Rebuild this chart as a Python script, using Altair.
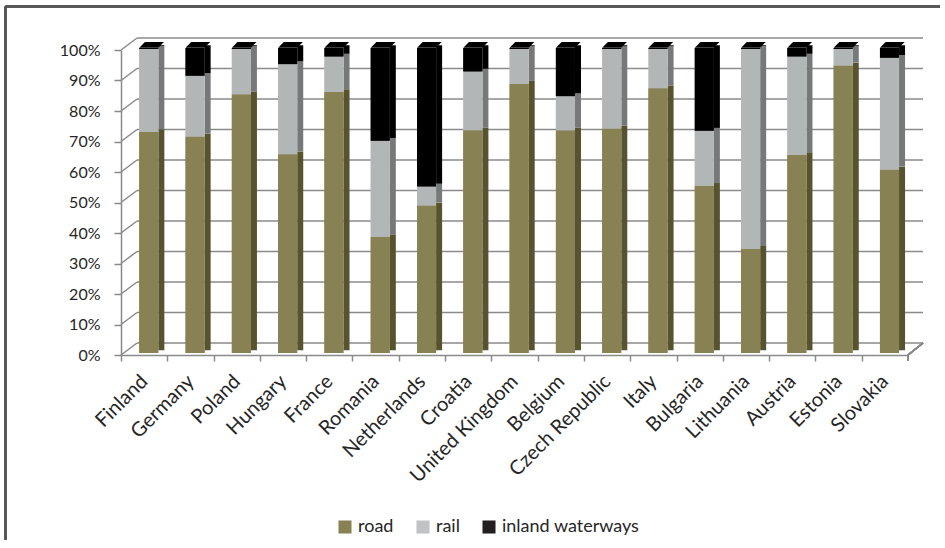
import altair as alt
import pandas as pd

countries = ["Finland", "Germany", "Poland", "Hungary", "France", "Romania",
             "Netherlands", "Croatia", "United Kingdom", "Belgium",
             "Czech Republic", "Italy", "Bulgaria", "Lithuania", "Austria",
             "Estonia", "Slovakia"]
road = [72.5, 71.0, 84.8, 65.2, 85.6, 38.0, 48.4, 73.0, 88.3, 73.0, 73.6,
        86.8, 54.8, 34.2, 64.9, 94.3, 60.2]
rail = [27.2, 19.9, 14.9, 29.5, 11.6, 31.6, 6.2, 19.3, 11.4, 11.2, 26.1,
        12.9, 18.1, 65.5, 32.3, 5.4, 36.6]
water = [0.3, 9.1, 0.3, 5.3, 2.8, 30.4, 45.4, 7.7, 0.3, 15.8, 0.3, 0.3,
         27.1, 0.3, 2.8, 0.3, 3.2]
modes = ["road", "rail", "inland waterways"]
front_colors = ["#878153", "#B3B6B7", "#000000"]
side_colors = ["#57532F", "#76797A", "#000000"]
legend_colors = ["#878153", "#C0C2C3", "#231F20"]
y_ticks = [0, 10, 20, 30, 40, 50, 60, 70, 80, 90, 100]

W, H = 787, 305
STEP = W / len(countries)
FONT = "Lato"
TXT = "#262626"
GRID = "#8A8A8A"

rows = []
for i, c in enumerate(countries):
    base = 0.0
    for k, (m, vals) in enumerate(zip(modes, [road, rail, water])):
        v = vals[i]
        rows.append({"country": c, "mode": m, "y0": base, "y1": base + v,
                     "side": side_colors[k], "front": front_colors[k]})
        base += v
df = pd.DataFrame(rows)
tops = pd.DataFrame({"country": countries,
                     "total": [r + a + w for r, a, w in zip(road, rail, water)]})
grid_df = pd.DataFrame({"v": y_ticks})

xs = alt.Scale(domain=countries, paddingInner=0, paddingOuter=0)
ys = alt.Scale(domain=[0, 100], nice=False)

x_enc = alt.X("country:N", scale=xs, sort=countries, title=None,
              axis=alt.Axis(labelAngle=-45, labelAlign="right", labelBaseline="middle",
                            labelFont=FONT, labelFontSize=20, labelColor=TXT,
                            labelPadding=17, tickOffset=-STEP / 2, labelOffset=STEP / 2,
                            tickSize=6, tickColor=GRID, domainColor=GRID,
                            domainWidth=1.5, tickWidth=1.5, labelOverlap=False,
                            labelBound=False))

y_axis = alt.Axis(values=y_ticks, tickCount=11, labelExpr="datum.value + '%'", grid=False,
                  labelFont=FONT, labelFontSize=16, labelColor=TXT,
                  labelPadding=14, tickSize=7, tickColor=GRID,
                  labelOverlap=False, labelFlush=False,
                  domainColor=GRID, domainWidth=1.5, tickWidth=1.5)


def yq(field):
    return alt.Y(field, scale=ys, axis=y_axis, title=None)


# back wall grid lines
grid = alt.Chart(grid_df).mark_rule(color=GRID, strokeWidth=1.5, yOffset=-12).encode(
    y=yq("v:Q"), x=alt.value(16), x2=alt.value(W + 15))
diag = alt.Chart(grid_df).mark_rule(color=GRID, strokeWidth=1.5, y2Offset=-12).encode(
    y=yq("v:Q"), y2="v:Q", x=alt.value(0), x2=alt.value(16))
floor_edge = alt.Chart(grid_df).mark_rule(color=GRID, strokeWidth=1.5, y2Offset=-12).encode(
    y=alt.datum(0, scale=ys, axis=y_axis, title=None), y2=alt.datum(0),
    x=alt.value(W), x2=alt.value(W + 15))
end_tick = alt.Chart(grid_df).mark_rule(color=GRID, strokeWidth=1.5).encode(
    x=alt.value(W), y=alt.value(H), y2=alt.value(H + 6))

side = alt.Chart(df).mark_bar(size=6, xOffset=17.2, yOffset=-4.75, y2Offset=-4.75).encode(
    x=x_enc, y=yq("y1:Q"), y2="y0:Q",
    color=alt.Color("side:N", scale=None))

legend_layer = alt.Chart(df).mark_bar(size=19, xOffset=4.6, yOffset=-2, y2Offset=-2).encode(
    x=x_enc, y=yq("y1:Q"), y2="y0:Q",
    color=alt.Color("mode:N",
                    scale=alt.Scale(domain=modes, range=legend_colors),
                    legend=alt.Legend(title=None, orient="none", direction="horizontal",
                                      legendX=215, legendY=468, symbolType="square",
                                      symbolSize=170, symbolStrokeWidth=0,
                                      labelFont=FONT, labelFontSize=18, labelColor=TXT,
                                      columnPadding=20, labelOffset=4)))

front = alt.Chart(df).mark_bar(size=19, xOffset=4.6, yOffset=-2, y2Offset=-2).encode(
    x=x_enc, y=yq("y1:Q"), y2="y0:Q",
    color=alt.Color("front:N", scale=None))

top = alt.Chart(tops).mark_point(
    shape="M -1 0.23 L 0.54 0.23 L 1 -0.23 L -0.54 -0.23 Z",
    filled=True, size=610, color="#000000", opacity=1, strokeWidth=0,
    xOffset=7.45, yOffset=-5.15).encode(
    x=x_enc, y=yq("total:Q"))

frame_top = alt.Chart(grid_df).mark_rule(color="#555555", strokeWidth=1.5).encode(
    x=alt.value(-115.5), x2=alt.value(W + 40), y=alt.value(-43.5))
frame_left = alt.Chart(grid_df).mark_rule(color="#555555", strokeWidth=1.5).encode(
    x=alt.value(-115.5), y=alt.value(-43.5), y2=alt.value(H + 200))

chart = alt.layer(frame_top, frame_left, grid, diag, floor_edge, end_tick, side,
                  legend_layer, front, top).properties(
    width=W, height=H,
    autosize=alt.AutoSizeParams(type="none"),
    padding={"left": 121, "top": 50, "right": 940 - 121 - W, "bottom": 540 - 50 - H},
    background="white",
).configure_view(stroke=None)

chart.save("out.html", embed_options={"renderer": "svg", "actions": False})
